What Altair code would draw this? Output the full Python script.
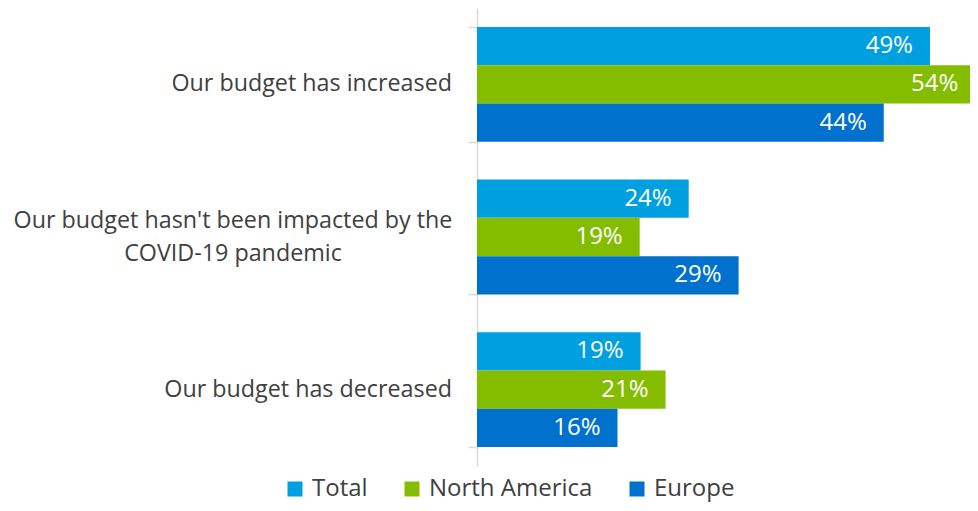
import altair as alt
import pandas as pd

categories = [
    "Our budget has increased",
    "Our budget hasn't been impacted by the\nCOVID-19 pandemic",
    "Our budget has decreased",
]
series = ["Total", "North America", "Europe"]
colors = ["#00A0E0", "#84BD00", "#0072CE"]

# bar lengths (percent)
total_vals = [49.0, 22.9, 17.7]
na_vals = [53.9, 17.6, 20.4]
europe_vals = [44.0, 28.3, 15.2]
# data labels as printed on the bars
total_labels = ["49%", "24%", "19%"]
na_labels = ["54%", "19%", "21%"]
europe_labels = ["44%", "29%", "16%"]

rows = []
for s, vals, labs in [
    ("Total", total_vals, total_labels),
    ("North America", na_vals, na_labels),
    ("Europe", europe_vals, europe_labels),
]:
    for c, v, l in zip(categories, vals, labs):
        rows.append({"category": c, "series": s, "value": v, "label": l})
df = pd.DataFrame(rows)
cat_df = pd.DataFrame({"category": categories})

FONT = "Open Sans"
TXT = "#404040"

y_enc = alt.Y(
    "category:N",
    sort=categories,
    scale=alt.Scale(paddingInner=0.248, paddingOuter=0.124),
    axis=alt.Axis(
        title=None,
        labels=False,
        domainColor="#D9D9D9",
        domainWidth=1.5,
        tickColor="#D9D9D9",
        tickWidth=1.5,
        tickSize=9,
        tickBand="extent",
    ),
)
x_enc = alt.X("value:Q", scale=alt.Scale(domain=[0, 53.33]), axis=None)
yoff = alt.YOffset("series:N", sort=series, scale=alt.Scale(paddingInner=0, paddingOuter=0))

bars = alt.Chart(df).mark_bar().encode(
    x=x_enc,
    y=y_enc,
    yOffset=yoff,
    color=alt.Color(
        "series:N",
        sort=series,
        scale=alt.Scale(domain=series, range=colors),
        legend=alt.Legend(
            orient="none",
            legendX=-194,
            legendY=469,
            direction="horizontal",
            title=None,
            symbolType="square",
            symbolSize=225,
            symbolStrokeWidth=0,
            symbolOpacity=1,
            labelFont=FONT,
            labelFontSize=24,
            labelColor=TXT,
            labelOffset=5,
            labelLimit=0,
            columnPadding=32,
        ),
    ),
)

bar_text = alt.Chart(df).mark_text(
    align="right", baseline="middle", dx=-17, color="white", font=FONT, fontSize=24
).encode(x=x_enc, y=y_enc, yOffset=yoff, text="label:N")

single = alt.Chart(cat_df).transform_filter(
    "indexof(datum.category, '\\n') < 0"
).mark_text(
    align="right", baseline="middle", font=FONT, fontSize=23.3, color=TXT
).encode(y=y_enc, x=alt.value(-25), text="category:N")

multi = alt.Chart(cat_df).transform_filter(
    "indexof(datum.category, '\\n') >= 0"
).mark_text(
    align="center", baseline="middle", font=FONT, fontSize=23.3, color=TXT,
    lineBreak="\n", lineHeight=33, dy=-16.5
).encode(y=y_enc, x=alt.value(-244), text="category:N")

chart = alt.layer(bars, bar_text, single, multi).properties(
    width=493,
    height=458,
    autosize=alt.AutoSizeParams(type="none"),
    padding={"left": 469, "top": 0, "right": 0, "bottom": 37},
).configure_view(stroke=None)

chart.save("out.html", embed_options={"renderer": "svg", "actions": False})
